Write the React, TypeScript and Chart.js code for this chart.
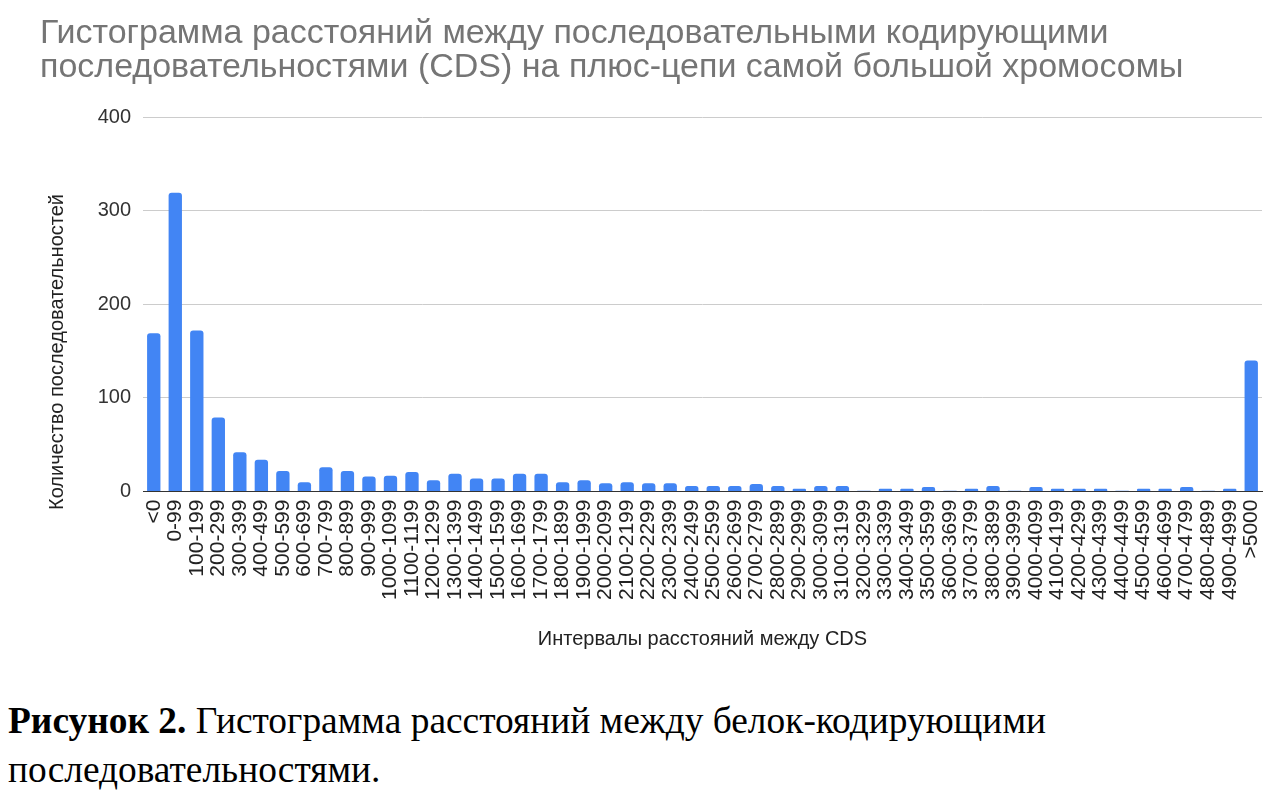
import React, { useEffect, useRef } from "react";
import { Chart, registerables } from "chart.js";

Chart.register(...registerables);

const titleLines = [
  "Гистограмма расстояний между последовательными кодирующими",
  "последовательностями (CDS) на плюс-цепи самой большой хромосомы",
];
const xAxisTitle = "Интервалы расстояний между CDS";
const yAxisTitle = "Количество последовательностей";

const categories = [
  "<0", "0-99", "100-199", "200-299", "300-399", "400-499", "500-599", "600-699",
  "700-799", "800-899", "900-999", "1000-1099", "1100-1199", "1200-1299", "1300-1399",
  "1400-1499", "1500-1599", "1600-1699", "1700-1799", "1800-1899", "1900-1999",
  "2000-2099", "2100-2199", "2200-2299", "2300-2399", "2400-2499", "2500-2599",
  "2600-2699", "2700-2799", "2800-2899", "2900-2999", "3000-3099", "3100-3199",
  "3200-3299", "3300-3399", "3400-3499", "3500-3599", "3600-3699", "3700-3799",
  "3800-3899", "3900-3999", "4000-4099", "4100-4199", "4200-4299", "4300-4399",
  "4400-4499", "4500-4599", "4600-4699", "4700-4799", "4800-4899", "4900-4999", ">5000",
];

const counts = [
  169, 319, 172, 79, 42, 34, 22, 10,
  26, 22, 16, 17, 21, 12, 19,
  14, 14, 19, 19, 10, 12,
  9, 10, 9, 9, 6, 6,
  6, 8, 6, 3, 6, 6,
  1, 3, 3, 5, 1, 3,
  6, 1, 5, 3, 3, 3,
  1, 3, 3, 5, 1, 3, 140,
];

const yTicks = [0, 100, 200, 300, 400];

const FONT = "Arial, 'Liberation Sans', sans-serif";

// Y-axis title drawn where the reference puts it (slightly below the plot centre)
const yTitlePlugin = {
  id: "yTitleOffset",
  afterDraw(chart: any) {
    const ctx = chart.ctx as CanvasRenderingContext2D;
    ctx.save();
    ctx.translate(57, 352);
    ctx.rotate(-Math.PI / 2);
    ctx.font = `20px ${FONT}`;
    ctx.fillStyle = "#222222";
    ctx.textAlign = "center";
    ctx.textBaseline = "middle";
    ctx.fillText(yAxisTitle, 0, 0);
    ctx.restore();
  },
};

export default function App() {
  const canvasRef = useRef<HTMLCanvasElement | null>(null);

  useEffect(() => {
    if (!canvasRef.current) return;
    const chart = new Chart(canvasRef.current, {
      type: "bar",
      data: {
        labels: categories,
        datasets: [
          {
            data: counts,
            backgroundColor: "#4285F4",
            borderRadius: 3,
            borderSkipped: "start",
            categoryPercentage: 1,
            barPercentage: 0.62,
          },
        ],
      },
      plugins: [yTitlePlugin],
      options: {
        animation: false,
        responsive: false,
        devicePixelRatio: 1,
        layout: { padding: { left: 40, right: 18, top: 0, bottom: 0 } },
        plugins: {
          legend: { display: false },
          tooltip: { enabled: false },
          title: {
            display: true,
            text: titleLines,
            align: "start",
            color: "#757575",
            font: { family: FONT, size: 34, weight: "normal", lineHeight: 1.0 },
            padding: { top: 17, bottom: 32 },
          },
        },
        scales: {
          x: {
            afterFit: (scale: any) => {
              scale.paddingRight = 0;
              scale.paddingLeft = 0;
            },
            grid: { display: false, drawTicks: false },
            border: { display: true, color: "#333333", width: 1 },
            ticks: {
              autoSkip: false,
              minRotation: 90,
              maxRotation: 90,
              padding: 8,
              color: "#222222",
              font: { family: FONT, size: 21 },
            },
            title: {
              display: true,
              text: xAxisTitle,
              color: "#222222",
              font: { family: FONT, size: 20 },
              padding: { top: 19, bottom: 19 },
            },
          },
          y: {
            min: 0,
            max: 400,
            afterBuildTicks: (scale: any) => {
              scale.ticks = yTicks.map((v) => ({ value: v }));
            },
            afterFit: (scale: any) => {
              scale.width = 103;
            },
            grid: { color: "#cccccc", drawTicks: false },
            border: { display: false },
            ticks: {
              padding: 12,
              color: "#333333",
              font: { family: FONT, size: 20 },
            },
            title: { display: false },
          },
        },
      },
    });
    return () => chart.destroy();
  }, []);

  return (
    <div style={{ position: "fixed", left: 0, top: 0, width: 1280, height: 799, background: "#ffffff" }}>
      <canvas ref={canvasRef} width={1280} height={670} style={{ position: "absolute", left: 0, top: 0 }} />
      <div
        style={{
          position: "absolute",
          left: 8,
          top: 696,
          fontFamily: "'Times New Roman', 'Liberation Serif', serif",
          fontSize: 37.4,
          lineHeight: "49px",
          color: "#000000",
          whiteSpace: "nowrap",
        }}
      >
        <b>Рисунок 2.</b> Гистограмма расстояний между белок-кодирующими
        <br />
        последовательностями.
      </div>
    </div>
  );
}
